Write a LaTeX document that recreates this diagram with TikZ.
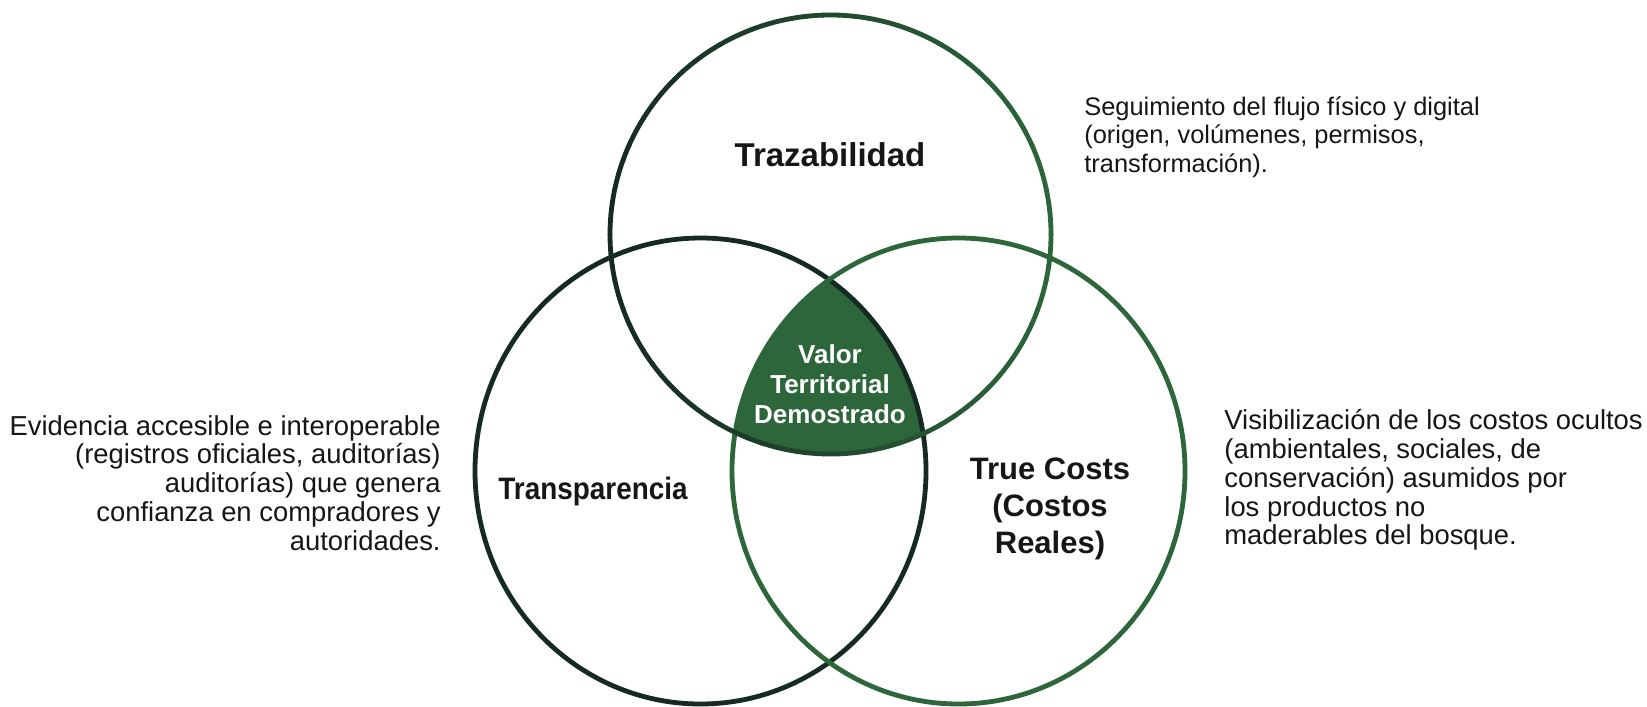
\documentclass[tikz,border=0pt]{standalone}
\usepackage{fontspec}
\setmainfont{Liberation Sans}
\definecolor{vdark}{RGB}{22,42,36}
\definecolor{vgreen}{RGB}{44,102,58}
\definecolor{vtext}{RGB}{22,22,22}
\begin{document}
\begin{tikzpicture}[x=0.5pt,y=-0.5pt,
  ring/.style={line width=2.4pt},
  lbl/.style={font=\bfseries\fontsize{15.5}{18.6}\selectfont, text=vtext, align=center, inner sep=0pt},
  desc/.style={font=\fontsize{13.7}{14.4}\selectfont, text=vtext, inner sep=0pt},
  core/.style={font=\bfseries\fontsize{13}{15}\selectfont, text=white, align=center, inner sep=0pt}]
\useasboundingbox (0,0) rectangle (1647,706);
\fill[white] (0,0) rectangle (1647,706);
% centre coordinates
\coordinate (ct) at (830.5,234.5);
\coordinate (cl) at (700.5,471);
\coordinate (cr) at (958.5,471);
% central intersection
\begin{scope}
  \clip (ct) ellipse [x radius=220.5, y radius=219.5];
  \clip (cl) ellipse [x radius=225.5, y radius=233];
  \fill[vgreen] (cr) ellipse [x radius=226.5, y radius=233];
\end{scope}
% left and right circles
\draw[ring, vdark] (cl) ellipse [x radius=225.5, y radius=233];
\draw[ring, vgreen] (cr) ellipse [x radius=226.5, y radius=233];
% top circle with dark-to-green stroke
\foreach \a in {0,4,...,356}{
  \pgfmathtruncatemacro\p{50+50*cos(\a+2)}
  \draw[ring, line cap=round, vgreen!\p!vdark] (ct) ++(\a:220.5 and 219.5)
    arc[start angle=\a, end angle=\a+4, x radius=220.5, y radius=219.5];
}
% labels
\node[lbl, font=\bfseries\fontsize{16.5}{19}\selectfont] (traz) at (830,155) {Trazabilidad};
\node[lbl] (transp) at (593,491) {\scalebox{0.9}[1]{Transparencia}};
\node[lbl] (truec) at (1050,509) {True Costs\\(Costos\\Reales)};
\node[core] (valor) at (830,384) {Valor\\Territorial\\Demostrado};
% descriptions
\node[desc, font=\fontsize{12.7}{14.2}\selectfont, align=left, anchor=west] (dtop) at (1084,137)
  {Seguimiento del flujo físico y digital\\(origen, volúmenes, permisos,\\transformación).};
\node[desc, align=right, anchor=east] (dleft) at (441,483)
  {Evidencia accesible e interoperable\\(registros oficiales, auditorías)\\auditorías) que genera\\confianza en compradores y\\autoridades.};
\node[desc, align=left, anchor=west] (dright) at (1224,480)
  {Visibilización de los costos ocultos\\(ambientales, sociales, de\\conservación) asumidos por\\los productos no\\maderables del bosque.};
\end{tikzpicture}
\end{document}
